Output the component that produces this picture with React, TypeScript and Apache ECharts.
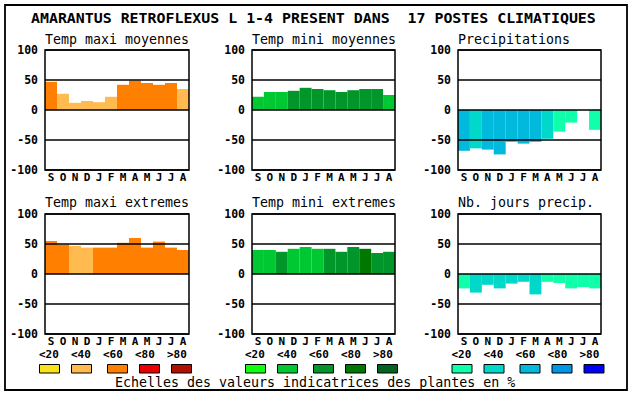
import React, { useEffect, useRef } from "react";
import * as echarts from "echarts";

const months = ["S", "O", "N", "D", "J", "F", "M", "A", "M", "J", "J", "A"];
const yTicks = [-100, -50, 0, 50, 100];

const mainTitle = "AMARANTUS RETROFLEXUS L 1-4 PRESENT DANS  17 POSTES CLIMATIQUES";
const footer = "Echelles des valeurs indicatrices des plantes en %";
const classLabels = ["<20", "<40", "<60", "<80", ">80"];

const orangeScale = ["#F7E21B", "#FFBA50", "#FF8000", "#E80000", "#B01000"];
const greenScale = ["#10FF10", "#00C832", "#00962A", "#007800", "#006420"];
const blueScale = ["#10FFAA", "#00D9C9", "#00B9DD", "#0096E8", "#0000F8"];

const panelTitles = [
  "Temp maxi moyennes",
  "Temp mini moyennes",
  "Precipitations",
  "Temp maxi extremes",
  "Temp mini extremes",
  "Nb. jours precip.",
];

const tempMaxiMoy = [47, 27, 12, 15, 13, 22, 42, 49, 45, 42, 45, 35];
const tempMaxiMoyClass = [2, 1, 1, 1, 1, 1, 2, 2, 2, 2, 2, 1];
const tempMiniMoy = [22, 30, 30, 32, 37, 35, 33, 30, 33, 35, 35, 25];
const tempMiniMoyClass = [1, 1, 1, 2, 2, 2, 2, 2, 2, 2, 2, 1];
const precip = [-68, -64, -66, -74, -53, -56, -53, -48, -36, -21, 0, -33];
const precipClass = [2, 1, 2, 2, 2, 2, 2, 1, 0, 0, 0, 0];
const tempMaxiExt = [55, 49, 47, 44, 44, 44, 52, 60, 44, 54, 44, 40];
const tempMaxiExtClass = [2, 2, 1, 1, 2, 2, 2, 2, 2, 2, 2, 2];
const tempMiniExt = [40, 40, 37, 42, 45, 42, 42, 37, 45, 42, 35, 37];
const tempMiniExtClass = [1, 1, 2, 1, 1, 1, 2, 2, 2, 3, 2, 2];
const nbJours = [-24, -31, -18, -24, -16, -13, -34, -13, -15, -24, -22, -24];
const nbJoursClass = [0, 1, 1, 1, 1, 1, 1, 0, 0, 0, 0, 0];

const MONO = "'DejaVu Sans Mono', 'Liberation Mono', monospace";

export default function App() {
  const ref = useRef<HTMLDivElement>(null);

  useEffect(() => {
    if (!ref.current) return;
    const chart = echarts.init(ref.current, undefined, { renderer: "svg" });

    const panels = [
      { values: tempMaxiMoy, cls: tempMaxiMoyClass, scale: orangeScale },
      { values: tempMiniMoy, cls: tempMiniMoyClass, scale: greenScale },
      { values: precip, cls: precipClass, scale: blueScale },
      { values: tempMaxiExt, cls: tempMaxiExtClass, scale: orangeScale },
      { values: tempMiniExt, cls: tempMiniExtClass, scale: greenScale },
      { values: nbJours, cls: nbJoursClass, scale: blueScale },
    ];

    const lefts = [45, 252, 458];
    const widths = [144, 143, 143];
    const tops = [50, 214];
    const plotH = 120;

    const grids: any[] = [];
    const xAxes: any[] = [];
    const yAxes: any[] = [];
    const series: any[] = [];
    const graphics: any[] = [];

    panels.forEach((p, i) => {
      const col = i % 3;
      const row = Math.floor(i / 3);
      grids.push({
        left: lefts[col],
        top: tops[row],
        width: widths[col],
        height: plotH,
        show: true,
        borderColor: "#000",
        borderWidth: 1.5,
        backgroundColor: "transparent",
        z: 10,
      });
      xAxes.push({
        type: "category",
        gridIndex: i,
        data: months,
        axisLine: { show: false, onZero: false },
        axisTick: { show: false },
        splitLine: { show: false },
        axisLabel: {
          interval: 0,
          margin: 2,
          color: "#000",
          fontFamily: MONO,
          fontWeight: "bold",
          fontSize: 11,
          lineHeight: 11,
        },
      });
      yAxes.push({
        type: "value",
        gridIndex: i,
        min: -100,
        max: 100,
        interval: 50,
        z: 10,
        axisLine: { show: false },
        axisTick: { show: false },
        splitLine: { show: true, lineStyle: { color: "#000", width: 1.5 } },
        axisLabel: {
          margin: 7,
          color: "#000",
          fontFamily: MONO,
          fontWeight: "bold",
          fontSize: 11.5,
          customValues: yTicks,
        },
      });
      series.push({
        type: "bar",
        xAxisIndex: i,
        yAxisIndex: i,
        barCategoryGap: "0%",
        z: 2,
        data: p.values.map((v, k) => ({
          value: v,
          itemStyle: { color: p.scale[p.cls[k]] },
        })),
      });
      graphics.push({
        type: "text",
        style: {
          text: panelTitles[i],
          x: lefts[col],
          y: row === 0 ? 39 : 202,
          fill: "#000",
          fontFamily: MONO,
          fontSize: 13.3,
          textVerticalAlign: "middle",
        },
      });
    });

    // legend swatches and labels
    const groupOffsets = [0, 206, 412.5];
    const labelX = [39, 71, 103, 135, 167];
    const boxX = [39, 71, 107, 139, 171];
    const scales = [orangeScale, greenScale, blueScale];
    groupOffsets.forEach((off, g) => {
      classLabels.forEach((lab, k) => {
        graphics.push({
          type: "text",
          style: {
            text: lab,
            x: labelX[k] + off,
            y: 354.5,
            fill: "#000",
            fontFamily: MONO,
            fontWeight: "bold",
            fontSize: 11,
            lineHeight: 11,
            textVerticalAlign: "middle",
          },
        });
        graphics.push({
          type: "rect",
          shape: { x: boxX[k] + off + 0.5, y: 364.5, width: 20, height: 8.5 },
          style: { fill: scales[g][k], stroke: "#000", lineWidth: 1 },
        });
      });
    });

    graphics.push({
      type: "text",
      style: {
        text: footer,
        x: 115,
        y: 382,
        fill: "#000",
        fontFamily: MONO,
        fontSize: 13.3,
        textVerticalAlign: "middle",
      },
    });
    graphics.push({
      type: "text",
      style: {
        text: mainTitle,
        x: 31,
        y: 18,
        fill: "#000",
        fontFamily: MONO,
        fontWeight: "bold",
        fontSize: 14.9,
        textVerticalAlign: "middle",
      },
    });
    graphics.push({
      type: "rect",
      shape: { x: 5, y: 5, width: 622, height: 385 },
      style: { fill: "none", stroke: "#000", lineWidth: 1.8 },
    });

    chart.setOption({
      animation: false,
      backgroundColor: "#fff",
      grid: grids,
      xAxis: xAxes,
      yAxis: yAxes,
      series,
      graphic: graphics,
    });

    return () => chart.dispose();
  }, []);

  return (
    <div
      ref={ref}
      style={{ position: "absolute", left: 0, top: 0, width: 630, height: 394 }}
    />
  );
}
